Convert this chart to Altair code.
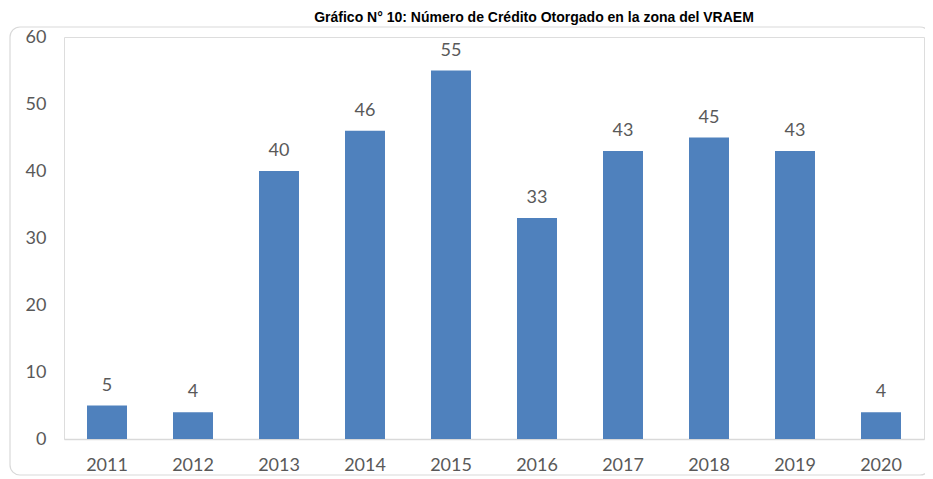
import altair as alt
import pandas as pd

years = ["2011", "2012", "2013", "2014", "2015", "2016", "2017", "2018", "2019", "2020"]
values = [5, 4, 40, 46, 55, 33, 43, 45, 43, 4]
title_text = "Gráfico N° 10: Número de Crédito Otorgado en la zona del VRAEM"
y_ticks = [0, 10, 20, 30, 40, 50, 60]

df = pd.DataFrame({"year": years, "value": values})

GRAY = "#595959"
FONT = "Lato"

x_enc = alt.X(
    "year:O",
    sort=years,
    scale=alt.Scale(paddingInner=0.535, paddingOuter=0.2675),
    axis=alt.Axis(
        title=None,
        labelAngle=0,
        ticks=False,
        domainColor="#D9D9D9",
        domainWidth=1.5,
        labelPadding=17,
        labelFont=FONT,
        labelFontSize=18,
        labelColor=GRAY,
    ),
)
y_enc = alt.Y(
    "value:Q",
    scale=alt.Scale(domain=[0, 60], nice=False),
    axis=alt.Axis(
        title=None,
        values=y_ticks,
        grid=False,
        ticks=False,
        domain=False,
        labelPadding=18,
        labelFont=FONT,
        labelFontSize=18,
        labelColor=GRAY,
    ),
)

base = alt.Chart(df)
bars = base.mark_bar(color="#4F81BD").encode(x=x_enc, y=y_enc)
labels = base.mark_text(
    dy=-15, baseline="alphabetic", font=FONT, fontSize=18, color=GRAY
).encode(x=x_enc, y=y_enc, text="value:Q")

frame = alt.Chart(pd.DataFrame({"k": [1]})).mark_rect(
    cornerRadius=10, fillOpacity=0, stroke="#D9D9D9", strokeWidth=1.2
).encode(
    x=alt.value(-54), x2=alt.value(866), y=alt.value(-10), y2=alt.value(438)
)

title = alt.Chart(pd.DataFrame({"t": [title_text]})).mark_text(
    font="Liberation Sans", fontWeight="bold", fontSize=14, color="#000000",
    align="center", baseline="alphabetic"
).encode(x=alt.value(470), y=alt.value(-15), text="t:N")

chart = alt.layer(frame, bars, labels, title).properties(
    width=860,
    height=402,
    autosize=alt.AutoSizeParams(type="none"),
    padding={"left": 56, "top": 29, "right": 1, "bottom": 38},
).configure_view(stroke=None).configure(background="white")

chart.save("out.html", embed_options={"renderer": "svg", "actions": False})
